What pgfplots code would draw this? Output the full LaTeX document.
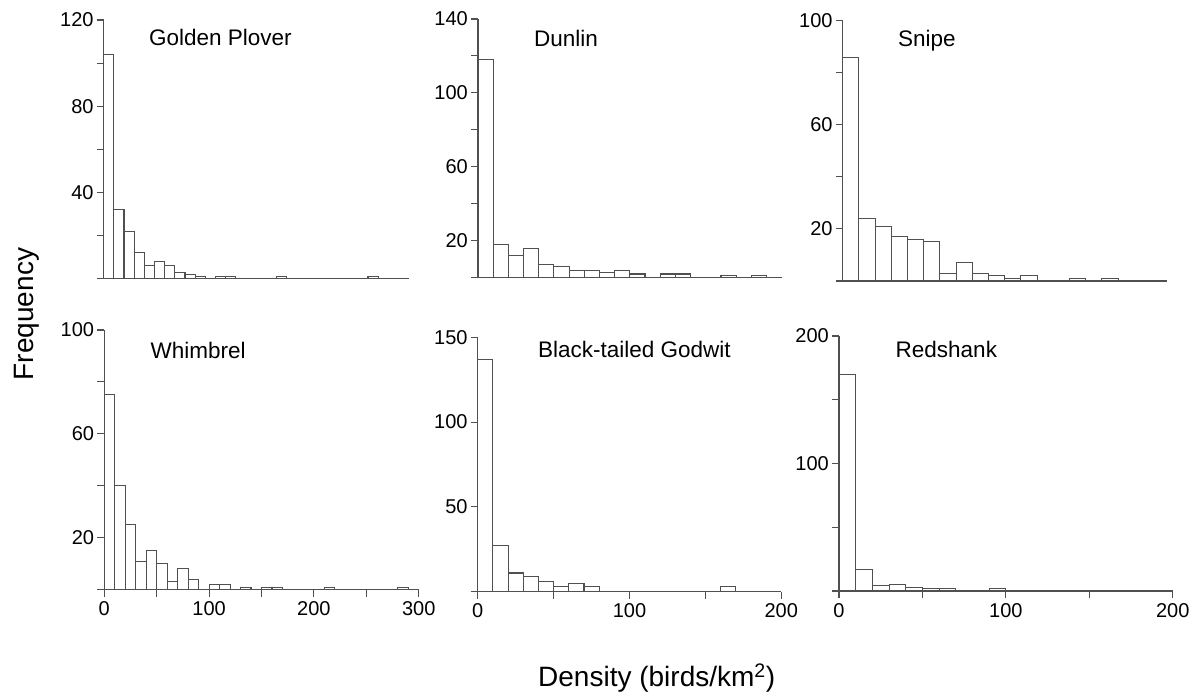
\documentclass[border=0pt]{standalone}
\usepackage{fontspec}
\setmainfont{Liberation Sans}
\usepackage{pgfplots}
\pgfplotsset{compat=1.18}
\definecolor{lg}{RGB}{80,80,80}
\pgfplotsset{
  hist/.style={
    scale only axis,
    anchor=south west,
    axis lines=left,
    axis line style={-, draw=lg, line width=1.1pt},
    xmin=0, ymin=0,
    clip=false,
    tick align=outside,
    major tick length=7pt,
    minor tick length=7pt,
    tick style={draw=lg, line width=1.1pt},
    minor tick style={draw=lg, line width=1.1pt},
    major tick style={draw=lg, line width=1.1pt},
    /pgf/number format/assume math mode=true,
    ticklabel style={font=\fontsize{20}{20}\selectfont},
    yticklabel style={inner xsep=3pt},
    xticklabel style={inner ysep=5pt},
  },
  bars/.style={ybar, bar width=10, bar shift=0pt, fill=white, draw=lg, line width=1.1pt},
}
\begin{document}
\begin{tikzpicture}[x=1pt,y=1pt]
\useasboundingbox (0,0) rectangle (1195,698);
% Golden Plover
\begin{axis}[hist, at={(103.7pt,419.3pt)}, width=305pt, height=258.7pt,
  xmax=300, ymax=120, xtick=\empty, minor xtick={0,50,...,300},
  ytick={40,80,120}, minor ytick={0,20,60,100}]
\addplot[bars] coordinates {(5,104) (15,32) (25,22) (35,12) (45,6) (55,8) (65,6) (75,3) (85,2) (95,1) (115,1) (125,1) (175,1) (265,1)};
\end{axis}
% Dunlin
\begin{axis}[hist, at={(478pt,420.3pt)}, width=303.7pt, height=258.7pt,
  xmax=200, ymax=140, xtick=\empty, minor xtick={0,50,...,200},
  ytick={20,60,100,140}, minor ytick={0,40,80,120}]
\addplot[bars] coordinates {(5,118) (15,18) (25,12) (35,16) (45,7) (55,6) (65,4) (75,4) (85,3) (95,4) (105,2) (125,2) (135,2) (165,1) (185,1)};
\end{axis}
% Snipe
\begin{axis}[hist, at={(842.7pt,417pt)}, width=324pt, height=260.3pt,
  xmax=200, ymax=100, xtick=\empty, minor xtick={0,50,...,200},
  ytick={20,60,100}, minor ytick={0,40,80}]
\addplot[bars] coordinates {(5,86) (15,24) (25,21) (35,17) (45,16) (55,15) (65,3) (75,7) (85,3) (95,2) (105,1) (115,2) (145,1) (165,1)};
\end{axis}
% Whimbrel
\begin{axis}[hist, at={(104.3pt,108.3pt)}, width=314.4pt, height=259.7pt,
  xmax=300, ymax=100, xtick={0,100,200,300}, minor xtick={50,150,250},
  ytick={20,60,100}, minor ytick={0,40,80}]
\addplot[bars] coordinates {(5,75) (15,40) (25,25) (35,11) (45,15) (55,10) (65,3) (75,8) (85,4) (105,2) (115,2) (135,1) (155,1) (165,1) (215,1) (285,1)};
\end{axis}
% Black-tailed Godwit
\begin{axis}[hist, at={(477.7pt,106.3pt)}, width=303.6pt, height=254.4pt,
  xmax=200, ymax=150, xtick={0,100,200}, minor xtick={50,150},
  ytick={50,100,150}, minor ytick={0}]
\addplot[bars] coordinates {(5,137) (15,27) (25,11) (35,9) (45,6) (55,3) (65,5) (75,3) (165,3)};
\end{axis}
% Redshank
\begin{axis}[hist, at={(839pt,107pt)}, width=333.7pt, height=255pt,
  xmax=200, ymax=200, xtick={0,100,200}, minor xtick={50,150},
  ytick={100,200}, minor ytick={0,50,150}]
\addplot[bars] coordinates {(5,170) (15,17) (25,4) (35,5) (45,3) (55,2) (65,2) (95,2)};
\end{axis}
% titles
\begin{scope}[every node/.style={inner sep=0pt, anchor=base west, font=\fontsize{22.5}{22.5}\selectfont}]
\node at (149,652.3) {Golden Plover};
\node at (534,651.3) {Dunlin};
\node at (898,651.3) {Snipe};
\node at (150.5,339.7) {Whimbrel};
\node at (538,340.3) {Black-tailed Godwit};
\node at (895.5,340.3) {Redshank};
\end{scope}
\node[inner sep=0pt, rotate=90, anchor=base, font=\fontsize{28}{28}\selectfont] at (34,384) {Frequency};
\node[inner sep=0pt, anchor=base, font=\fontsize{28}{28}\selectfont] at (656.7,11.3) {Density (birds/km\textsuperscript{2})};
\end{tikzpicture}
\end{document}
